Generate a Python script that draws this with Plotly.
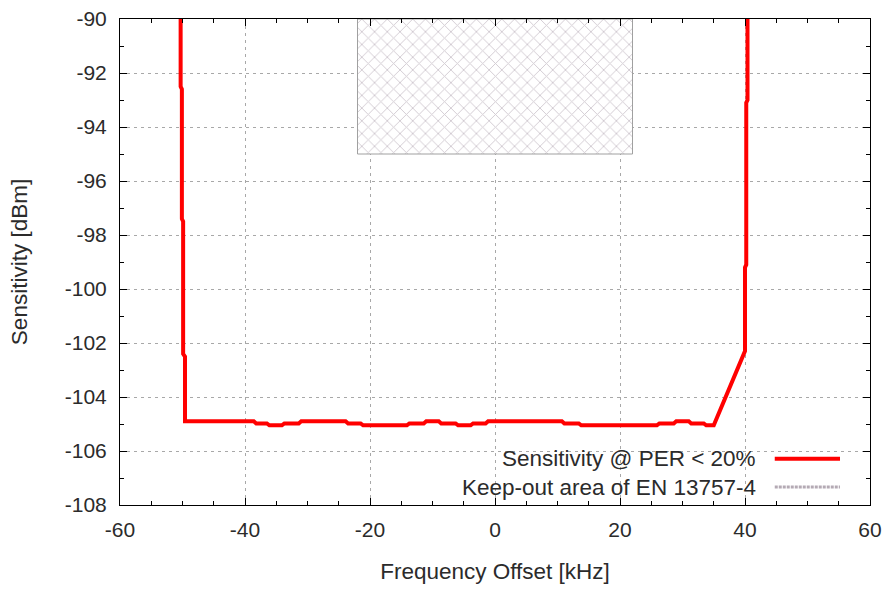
import plotly.graph_objects as go

# Measured receiver sensitivity (PER < 20 %) versus frequency offset
freq_offset_khz = [
    -50.3, -50.3, -50.1, -50.1, -49.9, -49.9, -49.6, -49.6,
    -38.6, -38.2, -36.5, -36.1, -34.1, -33.7, -31.4, -31.0,
    -23.9, -23.5, -21.5, -21.1, -14.1, -13.7, -11.4, -11.0,
    -9.0, -8.6, -6.3, -5.9, -3.9, -3.5, -1.5, -1.1,
    10.7, 11.1, 13.4, 13.8, 25.9, 26.3, 28.6, 29.0,
    31.0, 31.4, 33.4, 33.8, 35.0,
    40.0, 40.0, 40.2, 40.2, 40.4, 40.4,
]
sensitivity_dbm = [
    -90.0, -92.5, -92.6, -97.4, -97.5, -102.4, -102.5, -104.9,
    -104.9, -104.98, -104.98, -105.05, -105.05, -104.98, -104.98, -104.9,
    -104.9, -104.98, -104.98, -105.05, -105.05, -104.98, -104.98, -104.9,
    -104.9, -104.98, -104.98, -105.05, -105.05, -104.98, -104.98, -104.9,
    -104.9, -104.98, -104.98, -105.05, -105.05, -104.98, -104.98, -104.9,
    -104.9, -104.98, -104.98, -105.05, -105.05,
    -102.3, -99.2, -99.1, -93.1, -93.0, -90.0,
]

# Keep-out region of EN 13757-4 (frequency span and sensitivity span)
keepout_khz = [-22, 22]
keepout_dbm = [-95, -90]

legend_labels = ["Sensitivity @ PER < 20%", "Keep-out area of EN 13757-4"]

x_ticks = [-60, -40, -20, 0, 20, 40, 60]
y_ticks = [-108, -106, -104, -102, -100, -98, -96, -94, -92, -90]

FONT = "Liberation Sans, Arial, sans-serif"
TEXT = "#2b2b2b"
RED = "#ff0000"
GRID = "#a8a8a8"
HATCH = "#a497a4"

fig = go.Figure()

# Hatched keep-out rectangle
kx0, kx1 = keepout_khz
ky0, ky1 = keepout_dbm
fig.add_trace(go.Scatter(
    x=[kx0, kx1, kx1, kx0, kx0],
    y=[ky0, ky0, ky1, ky1, ky0],
    mode="lines",
    fill="toself",
    fillcolor="white",
    fillpattern=dict(shape="x", fgcolor=HATCH, bgcolor="white",
                     size=9, solidity=0.2),
    line=dict(color="#a0a0a0", width=1),
    hoverinfo="skip",
    showlegend=False,
))

# Sensitivity curve
fig.add_trace(go.Scatter(
    x=freq_offset_khz,
    y=sensitivity_dbm,
    mode="lines",
    line=dict(color=RED, width=4),
    showlegend=False,
))

# Key box (opaque, hides the grid behind it), text right-aligned with samples on the right
fig.add_shape(type="rect", xref="paper", yref="paper",
              x0=0.34, x1=0.997, y0=0.003, y1=0.128,
              fillcolor="white", line=dict(width=0), layer="between")

key_rows = [0.095, 0.037]
for label, row in zip(legend_labels, key_rows):
    fig.add_annotation(text=label, xref="paper", yref="paper",
                       x=0.851, y=row, xanchor="right", yanchor="middle",
                       showarrow=False,
                       font=dict(family=FONT, size=22.5, color=TEXT))
fig.add_shape(type="line", xref="paper", yref="paper",
              x0=0.873, x1=0.96, y0=key_rows[0], y1=key_rows[0],
              line=dict(color=RED, width=4))
fig.add_shape(type="line", xref="paper", yref="paper",
              x0=0.873, x1=0.96, y0=key_rows[1], y1=key_rows[1],
              line=dict(color="#b4aab4", width=3, dash="3px,1px"))

axis_common = dict(
    showline=True, linecolor="black", linewidth=1, mirror="allticks",
    ticks="inside", ticklen=7, tickcolor="black", tickwidth=1,
    showgrid=True, gridcolor=GRID, gridwidth=1, griddash="3px,4px",
    zeroline=False, automargin=False,
    tickfont=dict(family=FONT, size=21, color=TEXT),
)

fig.update_xaxes(
    range=[-60, 60], tickvals=x_ticks, ticktext=[str(v) for v in x_ticks],
    minor=dict(dtick=5, ticks="inside", ticklen=4, tickcolor="black", showgrid=False),
    title=dict(text="Frequency Offset [kHz]", standoff=23,
               font=dict(family=FONT, size=22.5, color=TEXT)),
    ticklabelstandoff=6,
    **axis_common,
)
fig.update_yaxes(
    range=[-108, -90], tickvals=y_ticks, ticktext=[str(v) for v in y_ticks],
    minor=dict(dtick=1, ticks="inside", ticklen=4, tickcolor="black", showgrid=False),
    title=dict(text="Sensitivity [dBm]", standoff=30,
               font=dict(family=FONT, size=22.5, color=TEXT)),
    ticklabelstandoff=8,
    **axis_common,
)

fig.update_layout(
    width=882, height=589,
    margin=dict(l=120, r=12, t=19, b=84),
    paper_bgcolor="white", plot_bgcolor="white",
    font=dict(family=FONT, size=21, color=TEXT),
    showlegend=False,
)

fig.write_html("out.html")
